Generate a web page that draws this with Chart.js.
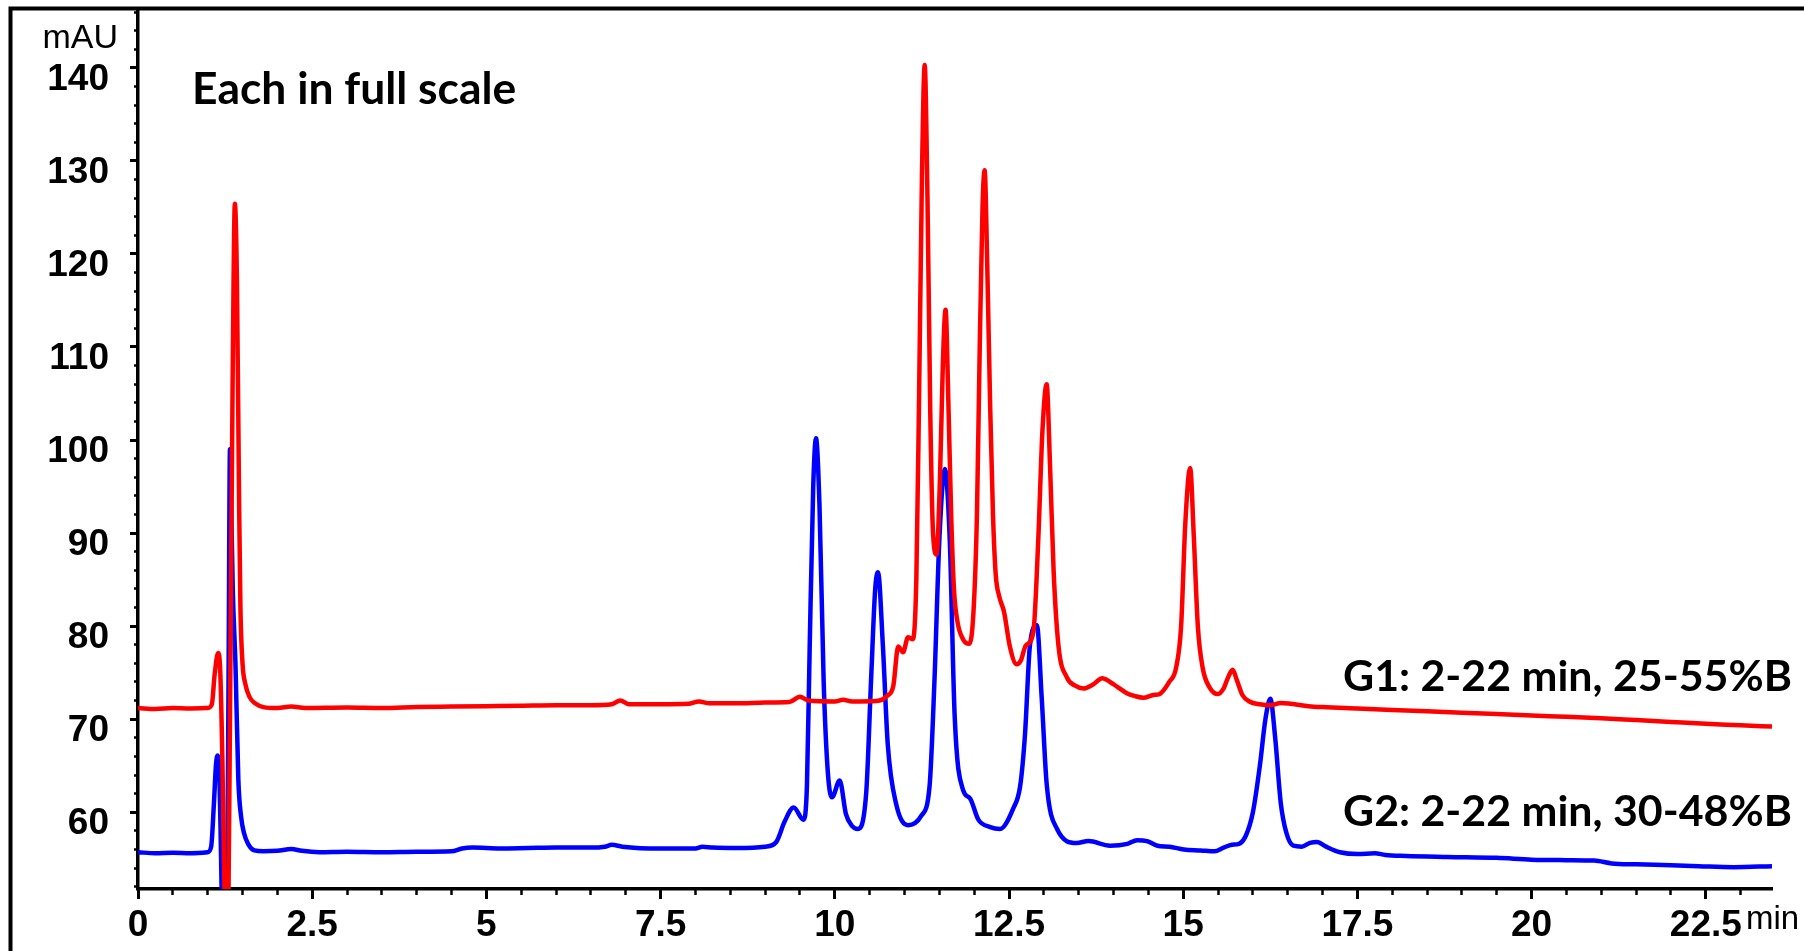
<!DOCTYPE html>
<html lang="en">
<head>
    <meta charset="UTF-8">
    <title>Chromatogram G1 / G2</title>
    <script src="https://cdn.jsdelivr.net/npm/chart.js"></script>
    <style>
        html, body {
            margin: 0;
            padding: 0;
            background: #fff;
            overflow: hidden;
        }

        .chart-box {
            position: relative;
            width: 1804px;
            height: 951px;
        }
    </style>
</head>
<body>
    <div class="chart-box">
        <canvas id="chromChart"></canvas>
    </div>

    <script>
        // G1: 2-22 min, 25-55%B (red trace) - time in min, signal in mAU
        const g1Time = [
            0.00, 0.25, 0.50, 0.75, 1.00, 1.06, 1.10, 1.15, 1.18, 1.21,
            1.24, 1.27, 1.30, 1.33, 1.36, 1.39, 1.42, 1.45, 1.47, 1.50,
            1.54, 1.60, 1.68, 1.80, 2.00, 2.20, 2.40, 3.00, 3.50, 4.00,
            4.50, 5.00, 5.50, 6.00, 6.50, 6.80, 6.92, 7.05, 7.50, 7.90,
            8.05, 8.20, 8.60, 9.00, 9.35, 9.50, 9.62, 10.00, 10.12, 10.25,
            10.60, 10.75, 10.84, 10.91, 10.98, 11.05, 11.12, 11.17, 11.21, 11.25,
            11.29, 11.33, 11.37, 11.41, 11.46, 11.51, 11.55, 11.59, 11.63, 11.67,
            11.71, 11.76, 11.84, 11.93, 11.99, 12.04, 12.08, 12.12, 12.15, 12.19,
            12.23, 12.27, 12.31, 12.36, 12.43, 12.51, 12.61, 12.67, 12.74, 12.85,
            12.92, 12.98, 13.04, 13.09, 13.14, 13.21, 13.33, 13.45, 13.57, 13.70,
            13.84, 13.95, 14.05, 14.19, 14.30, 14.43, 14.57, 14.66, 14.80, 14.90,
            14.97, 15.03, 15.10, 15.15, 15.21, 15.28, 15.38, 15.50, 15.58, 15.65,
            15.71, 15.77, 15.85, 15.95, 16.10, 16.25, 16.40, 16.55, 16.80, 17.00,
            17.50, 18.00, 18.50, 19.00, 19.50, 20.00, 20.50, 21.00, 21.50, 22.00,
            22.50, 23.00, 23.45
        ];
        const g1Signal = [
            71.2, 71.1, 71.2, 71.15, 71.2, 71.6, 74.8, 77.1, 75.2, 66.0,
            52.0, 44.0, 52.0, 80.0, 108.0, 125.4, 117.0, 94.0, 82.0, 76.0,
            73.8, 72.4, 71.7, 71.3, 71.2, 71.35, 71.2, 71.25, 71.2, 71.3,
            71.35, 71.4, 71.45, 71.5, 71.5, 71.6, 72.0, 71.6, 71.6, 71.65,
            71.9, 71.7, 71.7, 71.8, 71.85, 72.4, 72.0, 71.9, 72.1, 71.9,
            71.95, 72.5, 73.6, 77.8, 77.2, 78.8, 78.6, 85.0, 105.0, 128.0,
            140.3, 126.0, 103.0, 90.0, 87.7, 96.0, 108.0, 114.0, 104.0, 92.0,
            84.0, 80.5, 78.6, 78.1, 81.5, 92.0, 110.0, 125.0, 129.0, 118.0,
            103.5, 92.0, 85.5, 83.2, 81.5, 77.9, 75.9, 76.3, 77.9, 79.4,
            89.3, 101.0, 106.0, 97.0, 86.0, 77.9, 74.5, 73.6, 73.3, 73.7,
            74.4, 74.0, 73.5, 72.8, 72.5, 72.3, 72.6, 72.7, 74.0, 75.6,
            80.0, 91.0, 97.0, 90.0, 80.0, 75.5, 73.4, 72.7, 73.3, 74.6,
            75.3, 74.2, 72.6, 71.9, 71.6, 71.5, 71.75, 71.65, 71.4, 71.3,
            71.15, 71.0, 70.85, 70.7, 70.55, 70.4, 70.25, 70.1, 69.9, 69.7,
            69.5, 69.35, 69.2
        ];

        // G2: 2-22 min, 30-48%B (blue trace)
        const g2Time = [
            0.00, 0.25, 0.50, 0.75, 1.00, 1.05, 1.09, 1.12, 1.145, 1.17,
            1.19, 1.21, 1.25, 1.28, 1.30, 1.32, 1.34, 1.36, 1.40, 1.44,
            1.48, 1.52, 1.58, 1.67, 1.80, 2.00, 2.20, 2.35, 2.60, 3.00,
            3.50, 4.00, 4.50, 4.65, 4.80, 5.20, 5.60, 6.00, 6.50, 6.70,
            6.80, 6.95, 7.50, 8.00, 8.10, 8.25, 8.60, 9.00, 9.16, 9.28,
            9.41, 9.55, 9.60, 9.64, 9.69, 9.73, 9.78, 9.84, 9.90, 9.96,
            10.07, 10.16, 10.25, 10.33, 10.45, 10.52, 10.58, 10.62, 10.69, 10.76,
            10.88, 11.05, 11.24, 11.36, 11.43, 11.50, 11.58, 11.65, 11.72, 11.84,
            11.94, 12.06, 12.23, 12.37, 12.56, 12.66, 12.73, 12.80, 12.90, 12.97,
            13.04, 13.19, 13.47, 13.64, 13.95, 14.20, 14.34, 14.48, 14.63, 14.80,
            15.01, 15.25, 15.45, 15.58, 15.70, 15.80, 15.90, 16.00, 16.10, 16.18,
            16.25, 16.32, 16.40, 16.48, 16.58, 16.70, 16.82, 16.92, 17.05, 17.25,
            17.50, 17.75, 17.90, 18.20, 18.80, 19.50, 20.00, 20.50, 20.90, 21.15,
            21.50, 22.00, 22.40, 22.90, 23.45
        ];
        const g2Signal = [
            55.7, 55.6, 55.65, 55.6, 55.7, 56.3, 61.0, 65.2, 66.1, 63.5,
            56.0, 48.0, 44.0, 52.0, 75.0, 99.0, 92.0, 84.0, 75.6, 63.5,
            59.5, 57.8, 56.6, 55.9, 55.8, 55.85, 56.05, 55.85, 55.7, 55.75,
            55.7, 55.75, 55.8, 56.1, 56.2, 56.1, 56.15, 56.2, 56.2, 56.3,
            56.5, 56.3, 56.1, 56.1, 56.3, 56.2, 56.15, 56.3, 56.8, 59.0,
            60.5, 59.2, 62.8, 77.9, 94.9, 100.2, 93.0, 74.1, 64.3, 61.6,
            63.4, 59.8, 58.5, 58.2, 62.0, 74.1, 84.0, 85.8, 77.9, 67.3,
            60.9, 58.6, 59.6, 62.8, 74.1, 89.2, 96.9, 89.2, 70.4, 62.4,
            61.5, 59.2, 58.4, 58.2, 60.4, 62.8, 68.4, 77.9, 80.1, 72.2,
            63.1, 58.2, 56.7, 56.9, 56.4, 56.6, 57.0, 56.9, 56.4, 56.3,
            56.0, 55.9, 55.8, 56.2, 56.5, 56.6, 57.5, 60.0, 65.0, 70.0,
            72.2, 68.0, 61.0, 57.8, 56.4, 56.3, 56.7, 56.8, 56.3, 55.7,
            55.5, 55.6, 55.4, 55.3, 55.2, 55.1, 54.9, 54.85, 54.8, 54.5,
            54.4, 54.3, 54.2, 54.1, 54.2
        ];

        // axis ticks (labelled)
        const xTickValues = [0, 2.5, 5, 7.5, 10, 12.5, 15, 17.5, 20, 22.5];
        const yTickValues = [60, 70, 80, 90, 100, 110, 120, 130, 140];

        const X_MIN = 0, X_MAX = 23.45;
        const Y_MIN = 51.75, Y_MAX = 146;

        const labelFont = { family: '"Liberation Sans", Arial, sans-serif', size: 37, weight: 'bold' };

        function fixedTicks(values) {
            return function (scale) {
                scale.ticks = values.map(v => ({ value: v }));
            };
        }

        function stepTicks(step) {
            return function (scale) {
                const out = [];
                let v = Math.ceil(scale.min / step - 1e-9) * step;
                for (; v <= scale.max + 1e-9; v += step) {
                    out.push({ value: +v.toFixed(4) });
                }
                scale.ticks = out;
            };
        }

        function toPoints(times, values) {
            return times.map((t, i) => ({ x: t, y: values[i] }));
        }

        // frame lines and free text
        const decorPlugin = {
            id: 'decor',
            afterDraw(chart) {
                const ctx = chart.ctx;
                ctx.save();
                ctx.strokeStyle = '#000';
                ctx.lineWidth = 4;
                ctx.beginPath();
                ctx.moveTo(10.5, 951);
                ctx.lineTo(10.5, 8.5);
                ctx.lineTo(1804, 8.5);
                ctx.stroke();

                ctx.fillStyle = '#000';
                ctx.textBaseline = 'alphabetic';

                ctx.font = '34px "Liberation Sans", Arial, sans-serif';
                ctx.textAlign = 'right';
                ctx.fillText('mAU', 118, 48);

                ctx.font = '33px "Liberation Sans", Arial, sans-serif';
                ctx.textAlign = 'left';
                ctx.fillText('min', 1746, 929);

                const fit = (text, x, y, width) => {
                    ctx.font = 'bold 40px Lato, "Open Sans", sans-serif';
                    const size = 40 * width / ctx.measureText(text).width;
                    ctx.font = 'bold ' + size.toFixed(1) + 'px Lato, "Open Sans", sans-serif';
                    ctx.fillText(text, x, y);
                };
                fit('Each in full scale', 192, 104, 324);
                fit('G1: 2-22 min, 25-55%B', 1343, 691, 449);
                fit('G2: 2-22 min, 30-48%B', 1343, 826, 449);
                ctx.restore();
            }
        };

        new Chart(document.getElementById('chromChart'), {
            type: 'line',
            data: {
                datasets: [{
                    label: 'G1: 2-22 min, 25-55%B',
                    data: toPoints(g1Time, g1Signal),
                    borderColor: '#FF0000',
                    borderWidth: 4.5,
                    pointRadius: 0,
                    cubicInterpolationMode: 'monotone',
                    xAxisID: 'x',
                    yAxisID: 'y'
                }, {
                    label: 'G2: 2-22 min, 30-48%B',
                    data: toPoints(g2Time, g2Signal),
                    borderColor: '#0000FF',
                    borderWidth: 4.5,
                    pointRadius: 0,
                    cubicInterpolationMode: 'monotone',
                    xAxisID: 'x',
                    yAxisID: 'y'
                }]
            },
            options: {
                responsive: true,
                maintainAspectRatio: false,
                animation: false,
                parsing: false,
                layout: {
                    padding: { left: 0, right: 32, top: 12, bottom: 0 }
                },
                plugins: {
                    legend: { display: false },
                    tooltip: { enabled: false }
                },
                scales: {
                    x: {
                        type: 'linear',
                        position: 'bottom',
                        bounds: 'data',
                        min: X_MIN,
                        max: X_MAX,
                        weight: 1,
                        afterBuildTicks: fixedTicks(xTickValues),
                        afterFit: s => { s.height = 62; s.paddingLeft = 0; s.paddingRight = 0; },
                        ticks: {
                            autoSkip: false,
                            maxRotation: 0,
                            padding: 5,
                            color: '#000',
                            font: labelFont,
                            callback: v => String(v)
                        },
                        grid: {
                            drawOnChartArea: false,
                            tickLength: 10,
                            tickWidth: 3,
                            tickColor: '#000'
                        },
                        border: { display: true, color: '#000', width: 3.5 }
                    },
                    xMinor: {
                        type: 'linear',
                        position: 'bottom',
                        bounds: 'data',
                        min: X_MIN,
                        max: X_MAX,
                        weight: 0,
                        afterBuildTicks: stepTicks(0.5),
                        afterFit: s => { s.height = 0; s.paddingLeft = 0; s.paddingRight = 0; },
                        ticks: { display: false },
                        grid: {
                            drawOnChartArea: false,
                            tickLength: 6,
                            tickWidth: 2.5,
                            tickColor: '#000'
                        },
                        border: { display: false }
                    },
                    y: {
                        type: 'linear',
                        position: 'left',
                        bounds: 'data',
                        min: Y_MIN,
                        max: Y_MAX,
                        weight: 1,
                        afterBuildTicks: fixedTicks(yTickValues),
                        afterFit: s => { s.width = 138; s.paddingTop = 0; s.paddingBottom = 0; },
                        ticks: {
                            autoSkip: false,
                            padding: 21,
                            labelOffset: 12,
                            color: '#000',
                            font: labelFont,
                            callback: v => String(v)
                        },
                        grid: {
                            drawOnChartArea: false,
                            tickLength: 8,
                            tickWidth: 3,
                            tickColor: '#000'
                        },
                        border: { display: true, color: '#000', width: 3.5 }
                    },
                    yMinor: {
                        type: 'linear',
                        position: 'left',
                        bounds: 'data',
                        min: Y_MIN,
                        max: Y_MAX,
                        weight: 0,
                        afterBuildTicks: stepTicks(2),
                        afterFit: s => { s.width = 0; s.paddingTop = 0; s.paddingBottom = 0; },
                        ticks: { display: false },
                        grid: {
                            drawOnChartArea: false,
                            tickLength: 4,
                            tickWidth: 2.5,
                            tickColor: '#000'
                        },
                        border: { display: false }
                    }
                }
            },
            plugins: [decorPlugin]
        });
    </script>
</body>
</html>
